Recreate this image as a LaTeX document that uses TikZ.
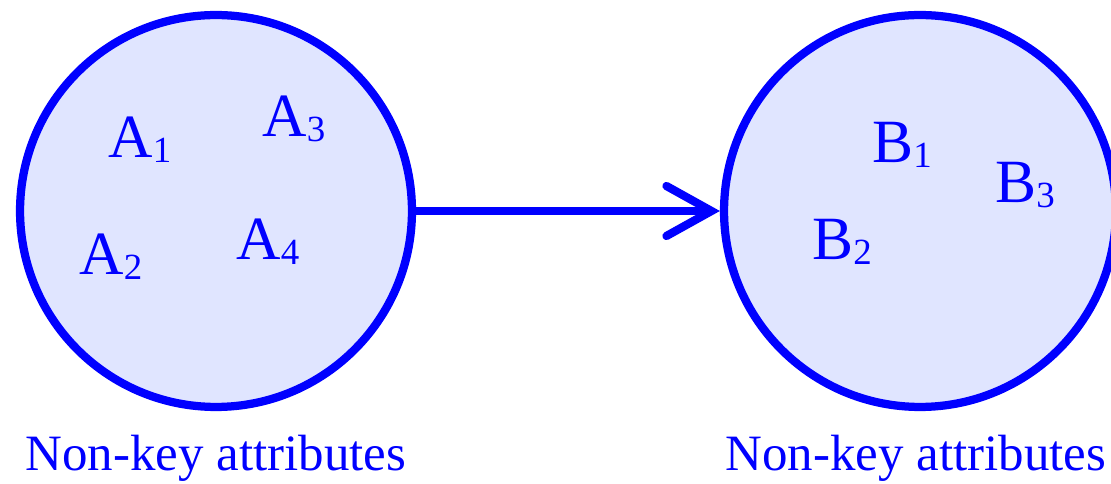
\documentclass[tikz,border=0pt]{standalone}
\usepackage{fontspec}
\setmainfont{Liberation Serif}
\usepackage{tikz}
\usetikzlibrary{
	arrows.meta,
}
\definecolor{setline}{rgb}{0.0, 0.0, 1.0}
\definecolor{setfill}{rgb}{0.88, 0.9, 1.0}
\newcommand{\attrsub}[2]{#1\raisebox{-2.3pt}{\fontsize{21}{21}\selectfont #2}}

\begin{document}
\begin{tikzpicture}[x=0.02cm, y=0.02cm, every node/.style={text=setline, inner sep=0pt},
	attrset/.style={circle, draw=setline, fill=setfill, line width=0.165cm, minimum size=7.84cm},
	attrname/.style={anchor=base west, font=\fontsize{35}{35}\selectfont},
	setlabel/.style={anchor=base, font=\fontsize{29}{29}\selectfont}]
\useasboundingbox (0,0) rectangle (1111,483);
% sets
\node[attrset] (setA) at (216,272) {};
\node[attrset] (setB) at (920,272) {};
% attributes of A
\node[attrname] (a1) at (108,325) {\attrsub{A}{1}};
\node[attrname] (a3) at (262,346) {\attrsub{A}{3}};
\node[attrname] (a2) at (79,208) {\attrsub{A}{2}};
\node[attrname] (a4) at (236,223) {\attrsub{A}{4}};
% attributes of B
\node[attrname] (b1) at (872,320) {\attrsub{B}{1}};
\node[attrname] (b3) at (995,280) {\attrsub{B}{3}};
\node[attrname] (b2) at (812,223) {\attrsub{B}{2}};
% captions
\node[setlabel] (labelA) at (216,12) {Non-key attributes};
\node[setlabel] (labelB) at (916,12) {Non-key attributes};
% dependency
\draw[setline, line width=0.165cm, -{Straight Barb[length=0.9cm, width=1.0cm, line cap=round]}] (setA) -- (setB);
\end{tikzpicture}
\end{document}
